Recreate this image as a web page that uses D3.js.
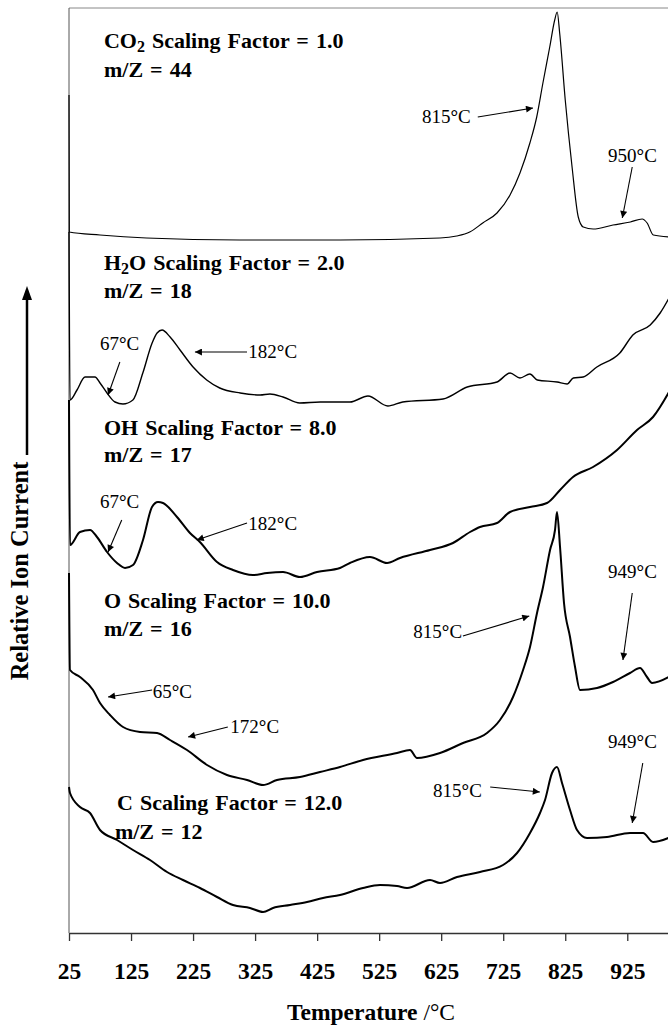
<!DOCTYPE html>
<html>
<head>
<meta charset="utf-8">
<script src="https://cdn.jsdelivr.net/npm/d3@7"></script>
<style>
	body { margin: 0; background: #fff; }
	svg { display: block; }
	text { font-family: "Liberation Serif", "Times New Roman", serif; fill: #000; }
</style>
</head>
<body>
<svg></svg>
<script>

// temperature ticks on the bottom axis
const tickTemps = [25, 125, 225, 325, 425, 525, 625, 725, 825, 925]

// traces: [temperature °C, relative ion current (offset, arbitrary units)]
const co2 = [[25, 83.8], [25.5, 70.1], [75, 69.8], [150, 69.5], [300, 69.3], [462, 69.3], [623, 69.5], [650, 69.7], [671, 70.1], [692, 71.0], [715, 72.0], [736, 73.8], [752, 76.0], [768, 79.0], [779, 81.6], [789, 85.0], [800, 88.6], [808, 91.3], [812, 92.1], [816, 90.0], [825, 83.3], [836, 76.6], [846, 71.6], [854, 70.6], [870, 70.4], [902, 70.8], [930, 71.1], [949, 71.4], [957, 71.0], [967, 69.8], [995, 69.6]]

const h2o = [[25, 70.1], [26.6, 53.3], [37.9, 54.3], [50.8, 55.6], [66.9, 55.6], [75, 55.0], [86.3, 54.0], [99.2, 53.1], [112, 52.9], [128, 53.3], [144, 56.0], [159, 59.0], [167, 60.0], [175, 60.3], [188, 59.6], [204, 58.3], [225, 56.6], [247, 55.3], [268, 54.5], [301, 54.0], [333, 53.8], [349, 53.9], [370, 53.6], [397, 53.0], [430, 53.1], [462, 53.1], [478, 53.1], [507, 53.7], [539, 52.7], [563, 53.1], [628, 53.4], [667, 54.6], [715, 55.1], [736, 56.0], [752, 55.5], [768, 55.9], [780, 55.3], [812, 55.1], [828, 54.9], [838, 55.5], [854, 55.6], [876, 56.6], [913, 58.0], [934, 59.8], [962, 60.8], [978, 62.0], [995, 63.8]]

const oh = [[25, 53.3], [26.6, 38.8], [42.7, 40.1], [58.9, 40.3], [70.1, 39.6], [86.3, 38.1], [102.4, 37.0], [115.3, 36.5], [128.2, 36.8], [144.3, 39.3], [158.8, 42.6], [168.5, 43.1], [176.5, 43.0], [199.1, 41.6], [220, 40.0], [236, 39.1], [263.6, 37.1], [289.4, 36.3], [321.6, 35.8], [344.2, 36.0], [370, 36.1], [397.4, 35.6], [424.8, 36.1], [461.9, 36.5], [478, 37.0], [510.2, 37.6], [537.7, 37.0], [558.6, 37.5], [607, 38.3], [644, 39.0], [671.5, 40.1], [687.6, 40.6], [715, 41.0], [736, 42.1], [768.2, 42.6], [795.6, 43.0], [816.6, 44.3], [837.5, 45.6], [869.8, 46.6], [908.5, 48.3], [940.7, 50.3], [966.5, 51.6], [995, 54.4]]

const o = [[25, 36.0], [26.6, 26.3], [42.7, 25.6], [63.7, 24.3], [75, 23.0], [91.1, 21.8], [112.1, 20.6], [139.5, 20.1], [166.9, 20.0], [187.8, 19.3], [215.2, 18.3], [247.5, 16.8], [279.7, 15.8], [312, 15.3], [337.8, 14.8], [360.3, 15.3], [397.4, 15.6], [429.6, 16.1], [461.9, 16.6], [499, 17.3], [553.8, 18.0], [574.7, 18.3], [586, 17.5], [623.1, 18.0], [660.2, 19.0], [698.9, 20.0], [719.8, 21.3], [740.8, 23.6], [757, 26.3], [768.2, 28.6], [779.5, 32.0], [789.2, 34.6], [800.5, 38.3], [808.5, 40.3], [811.7, 42.1], [816.6, 38.6], [823, 33.0], [832.7, 29.6], [840.8, 26.6], [848.8, 24.3], [876.2, 24.5], [902, 25.1], [929.4, 26.0], [945.5, 26.5], [956.8, 25.6], [964.9, 25.0], [995, 25.7]]

const c = [[25, 14.6], [26.6, 14.0], [42.7, 12.6], [58.9, 12.0], [75, 10.3], [102.4, 9.3], [128.2, 8.3], [155.6, 7.3], [183, 6.1], [208.8, 5.3], [236.2, 4.5], [263.6, 3.6], [289.4, 2.8], [316.8, 2.5], [337.8, 2.1], [353.9, 2.5], [381.3, 2.8], [408.7, 3.1], [434.5, 3.5], [461.9, 3.8], [499, 4.5], [526.4, 4.8], [553.8, 4.7], [569.9, 4.5], [607, 5.3], [623.1, 5.0], [650.5, 5.6], [687.6, 6.1], [724.7, 6.8], [747.3, 8.0], [768.2, 10.0], [784.3, 12.0], [792.4, 13.3], [803.7, 16.0], [811.7, 16.6], [819.8, 15.0], [832.7, 12.3], [844, 10.3], [860.1, 9.5], [892.3, 9.6], [929.4, 10.0], [950.4, 10.0], [966.5, 9.1], [995, 9.6]]

// series captions
const speciesNames = [['CO', '2', ''], ['H', '2', 'O'], ['OH', '', ''], ['O', '', ''], ['C', '', '']]
const scalingFactors = ['1.0', '2.0', '8.0', '10.0', '12.0']
const massToCharge = [44, 18, 17, 16, 12]

// peak annotations: label, label anchor [t, u], arrow from [t, u] to [t, u]
const annotations = [
	{ label: '815', at: [594, 81.0], from: [684, 81.6], to: [773, 82.5] },
	{ label: '950', at: [894, 77.1], from: [933, 76.6], to: [917, 71.5] },
	{ label: '67', at: [75, 58.3], from: [107, 57.1], to: [88, 53.8] },
	{ label: '182', at: [314, 57.5], from: [312, 58.1], to: [228, 58.1] },
	{ label: '67', at: [75, 42.5], from: [110, 41.3], to: [88, 38.1] },
	{ label: '182', at: [314, 40.3], from: [312, 41.0], to: [231, 39.3] },
	{ label: '815', at: [580, 29.5], from: [660, 29.7], to: [767, 31.7] },
	{ label: '949', at: [894, 35.5], from: [933, 34.0], to: [918, 27.3] },
	{ label: '65', at: [160, 23.5], from: [159, 24.3], to: [88, 23.6] },
	{ label: '172', at: [285, 20.0], from: [281, 20.6], to: [217, 19.6] },
	{ label: '815', at: [612, 13.6], from: [704, 14.6], to: [784, 14.1] },
	{ label: '949', at: [894, 18.5], from: [950, 17.0], to: [933, 11.0] }
]

const traces = [co2, h2o, oh, o, c]
const traceWidths = [1.2, 1.4, 2.0, 2.0, 2.0]
// caption anchors [t, u line 1, u line 2, t line 2]
const captionPos = [[81.4, 88.5, 85.6, 81.4], [81.4, 66.3, 63.5, 81.4], [81.4, 49.8, 47.1, 81.4], [81.4, 32.5, 29.7, 81.4], [102.4, 12.3, 9.4, 99]]

let w = 668, h = 1030

let scX = d3.scaleLinear()
.domain([25, 1000])
.range([69, 673.8])

let scY = d3.scaleLinear()
.domain([0, 92.5])
.range([933, 8])

let svg = d3.select('svg')
.attr('width', w)
.attr('height', h)

svg.append('defs').append('marker')
.attr('id', 'head')
.attr('markerUnits', 'userSpaceOnUse')
.attr('viewBox', '0 0 10 10')
.attr('refX', 10).attr('refY', 5)
.attr('markerWidth', 9).attr('markerHeight', 7)
.attr('orient', 'auto')
.append('path')
.attr('d', 'M0,0 L10,5 L0,10 Z')
.attr('fill', '#000')

// frame: top border and left edge
svg.append('line')
.attr('x1', scX(25)).attr('x2', w)
.attr('y1', scY(92.5)).attr('y2', scY(92.5))
.attr('stroke', '#888').attr('stroke-width', 1)

svg.append('line')
.attr('x1', scX(25)).attr('x2', scX(25))
.attr('y1', scY(92.5)).attr('y2', scY(0))
.attr('stroke', '#555').attr('stroke-width', 1)

let xAx = d3.axisBottom(scX)
.tickValues(tickTemps)
.tickSize(8)
.tickSizeOuter(0)
.tickPadding(21)

let gx = svg.append('g')
.attr('transform', `translate(0, ${scY(0)})`)
.call(xAx)

gx.select('.domain').attr('stroke', '#333').attr('stroke-width', 1.3)
gx.selectAll('.tick line').attr('stroke', '#333').attr('stroke-width', 1.3)
gx.selectAll('.tick text')
.attr('font-family', '"Liberation Serif", serif')
.attr('font-size', 23.5)
.attr('font-weight', 'bold')
.attr('fill', '#000')

let line = d3.line()
.x(d => scX(d[0]))
.y(d => scY(d[1]))
.curve(d3.curveMonotoneX)

svg.append('g')
.selectAll('path')
.data(traces).enter().append('path')
.attr('d', line)
.attr('fill', 'none')
.attr('stroke', '#000')
.attr('stroke-width', (d, i) => traceWidths[i])
.attr('stroke-linejoin', 'round')

// captions
let caps = svg.append('g')
.attr('font-size', 22)
.attr('font-weight', 'bold')
.attr('word-spacing', 1.5)

speciesNames.forEach((sp, i) => {
	let p = captionPos[i]
	let t1 = caps.append('text')
	.attr('x', scX(p[0]))
	.attr('y', scY(p[1]))
	t1.append('tspan').text(sp[0])
	if (sp[1]) {
		t1.append('tspan').attr('dy', 4).attr('font-size', 16).text(sp[1])
		t1.append('tspan').attr('dy', -4).text(sp[2] + ' Scaling Factor = ' + scalingFactors[i])
	} else {
		t1.append('tspan').text(' Scaling Factor = ' + scalingFactors[i])
	}
	caps.append('text')
	.attr('x', scX(p[3]))
	.attr('y', scY(p[2]))
	.text('m/Z = ' + massToCharge[i])
})

// arrows and peak temperatures
let ann = svg.append('g')

ann.selectAll('line')
.data(annotations).enter().append('line')
.attr('x1', d => scX(d.from[0]))
.attr('y1', d => scY(d.from[1]))
.attr('x2', d => scX(d.to[0]))
.attr('y2', d => scY(d.to[1]))
.attr('stroke', '#000')
.attr('stroke-width', 1.1)
.attr('marker-end', 'url(#head)')

let labels = ann.selectAll('text')
.data(annotations).enter().append('text')
.attr('x', d => scX(d.at[0]))
.attr('y', d => scY(d.at[1]))
.attr('font-size', 19)

labels.append('tspan').text(d => d.label)
labels.append('tspan').attr('font-weight', 'bold').text('°')
labels.append('tspan').text('C')

// axis titles
let xt = svg.append('text')
.attr('x', 371)
.attr('y', 1020)
.attr('text-anchor', 'middle')
.attr('font-size', 23.5)
.attr('font-weight', 'bold')
xt.append('tspan').text('Temperature ')
xt.append('tspan').attr('font-weight', 'normal').text('/°C')

svg.append('text')
.attr('transform', 'translate(28, 571) rotate(-90)')
.attr('text-anchor', 'middle')
.attr('font-size', 24.5)
.attr('font-weight', 'bold')
.text('Relative Ion Current')

svg.append('line')
.attr('x1', 27).attr('x2', 27)
.attr('y1', 455).attr('y2', 294)
.attr('stroke', '#000')
.attr('stroke-width', 2.5)

svg.append('path')
.attr('d', 'M27,286 L22,300 L32,300 Z')
.attr('fill', '#000')

</script>
</body>
</html>
